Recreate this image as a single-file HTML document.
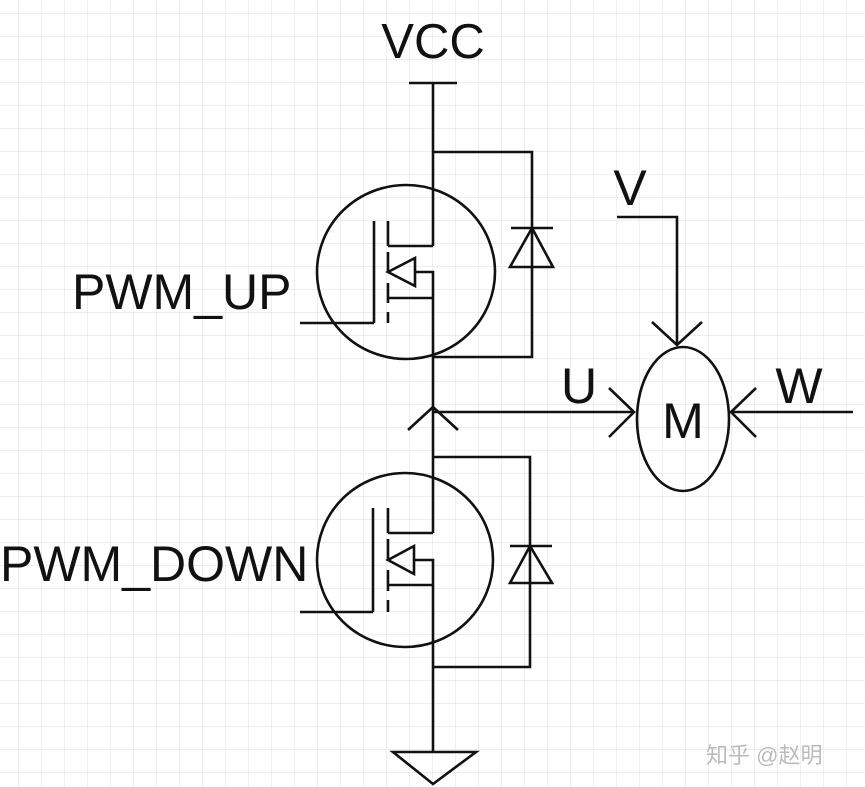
<!DOCTYPE html>
<html><head><meta charset="utf-8"><style>
html,body{margin:0;padding:0;background:#fff;}
svg{display:block;}
text{font-family:"Liberation Sans","Noto Sans CJK SC",sans-serif;fill:#111;}
</style></head><body>
<svg width="865" height="787" viewBox="0 0 865 787" xmlns="http://www.w3.org/2000/svg">
<defs>
<pattern id="g" x="18" y="13" width="23" height="23" patternUnits="userSpaceOnUse">
<path d="M0 0V23M0 0H23" stroke="#e4e4e4" stroke-width="1.2" fill="none"/>
</pattern>
</defs>
<rect width="865" height="787" fill="url(#g)"/>
<g stroke="#111" stroke-width="2.6" fill="none">
<!-- VCC -->
<line x1="409" y1="83" x2="457" y2="83"/>
<line x1="433" y1="83" x2="433" y2="246"/>
<!-- upper mosfet -->
<ellipse cx="406" cy="272" rx="89" ry="87"/>
<polyline points="433,152 532,152 532,357 433,357"/>
<line x1="374" y1="221" x2="374" y2="323"/>
<line x1="300" y1="323" x2="374" y2="323"/>
<line x1="388" y1="221" x2="388" y2="246"/>
<line x1="388" y1="252" x2="388" y2="273"/>
<line x1="388" y1="283" x2="388" y2="303"/>
<line x1="388" y1="312" x2="388" y2="323"/>
<line x1="388" y1="246" x2="433" y2="246"/>
<line x1="388" y1="298" x2="433" y2="298"/>
<polyline points="415,272 433,272 433,298"/>
<polygon points="388,272 415,258 415,286"/>
<line x1="511" y1="228" x2="553" y2="228"/>
<polygon points="532,228 510,267 553,267"/>
<line x1="433" y1="298" x2="433" y2="533"/>
<!-- node -->
<polyline points="408,430 433,407 458,430"/>
<line x1="433" y1="412" x2="634" y2="412"/>
<polyline points="609,388 634,412 609,437"/>
<!-- lower mosfet -->
<ellipse cx="405" cy="560" rx="88" ry="87"/>
<polyline points="433,457 530,457 530,667 433,667"/>
<line x1="373" y1="508" x2="373" y2="612"/>
<line x1="300" y1="612" x2="373" y2="612"/>
<line x1="388" y1="508" x2="388" y2="533"/>
<line x1="388" y1="539" x2="388" y2="561"/>
<line x1="388" y1="570" x2="388" y2="591"/>
<line x1="388" y1="600" x2="388" y2="612"/>
<line x1="388" y1="533" x2="433" y2="533"/>
<line x1="388" y1="585" x2="433" y2="585"/>
<polyline points="414,560 433,560 433,585"/>
<polygon points="388,560 414,546 414,574"/>
<line x1="510" y1="546" x2="552" y2="546"/>
<polygon points="530,546 510,583 552,583"/>
<line x1="433" y1="585" x2="433" y2="752"/>
<polygon points="393,752 476,752 433,784"/>
<!-- motor -->
<ellipse cx="683" cy="419" rx="46" ry="72"/>
<polyline points="617,217 677,217 677,345"/>
<polyline points="652,322 677,345 702,322"/>
<line x1="853" y1="412" x2="733" y2="412"/>
<polyline points="756,388 731,412 756,437"/>
</g>
<text x="433" y="58" font-size="49" text-anchor="middle">VCC</text>
<text x="72" y="309" font-size="50">PWM_UP</text>
<text x="0" y="581" font-size="50">PWM_DOWN</text>
<text x="630" y="205" font-size="50" text-anchor="middle">V</text>
<text x="579" y="403" font-size="50" text-anchor="middle">U</text>
<text x="799" y="403" font-size="50" text-anchor="middle">W</text>
<text x="683" y="438" font-size="50" text-anchor="middle">M</text>
<text x="706" y="763" font-size="22" style="fill:#bbb">知乎 @赵明</text>
</svg>
</body></html>
